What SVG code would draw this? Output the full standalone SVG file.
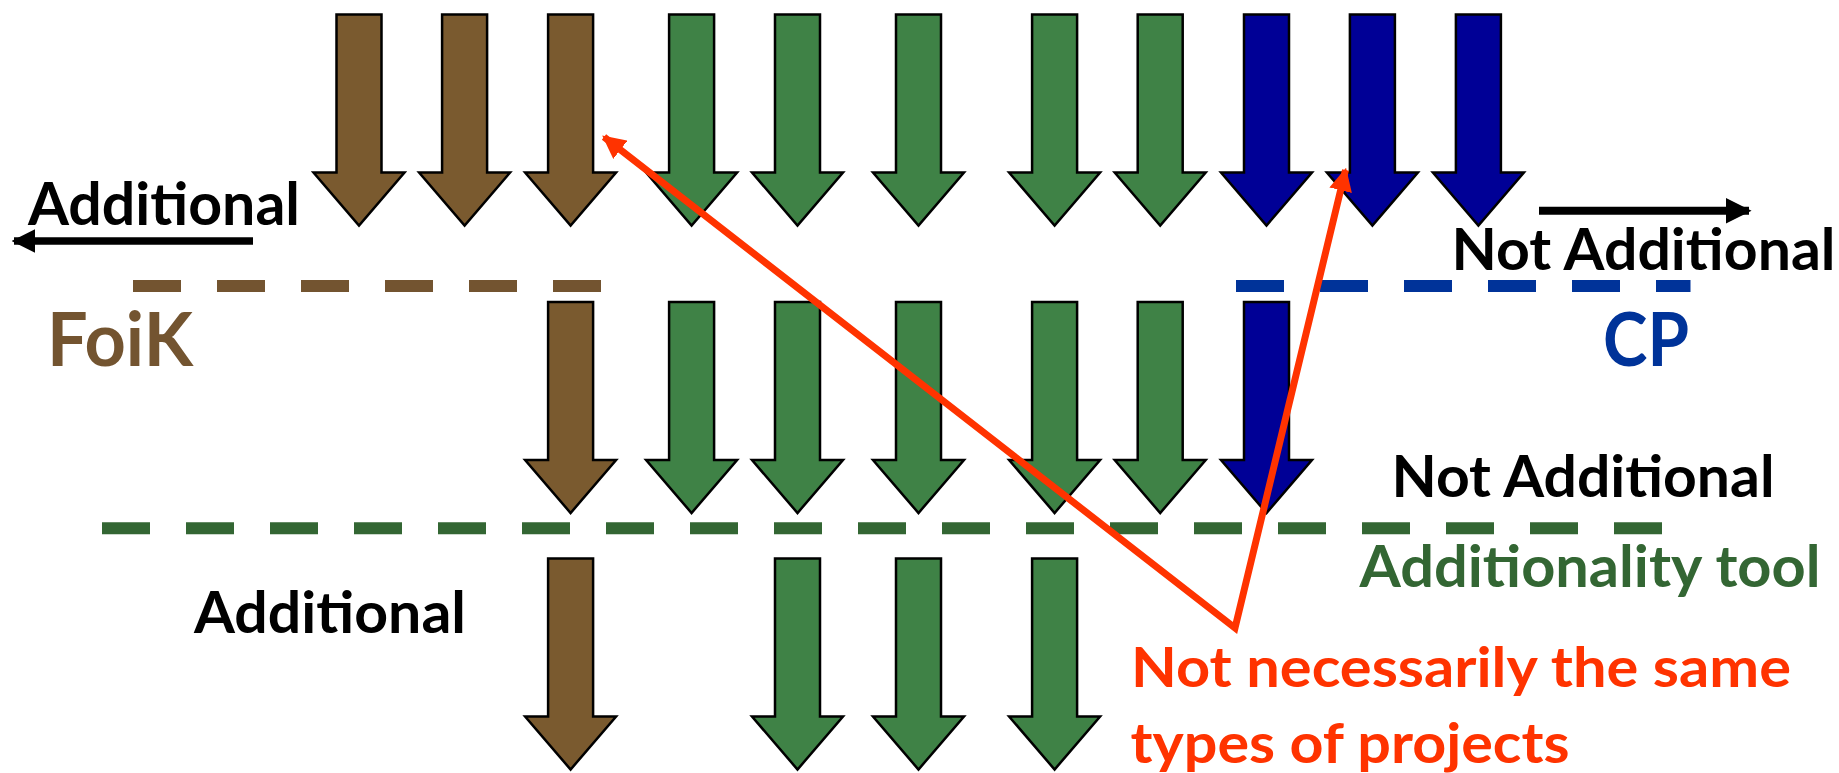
<svg xmlns="http://www.w3.org/2000/svg" width="1839" height="773" viewBox="0 0 1839 773">
<style>
.arr{stroke:#000;stroke-width:2.5;stroke-linejoin:miter}
.brown{fill:#7A5A2F}
.green{fill:#3F8246}
.blue{fill:#000096}
.t{font-family:Lato,"Open Sans","Liberation Sans",sans-serif;font-weight:700}
.blk{fill:#000}
.dash{fill:none;stroke-width:12;stroke-dasharray:48 36}
.red{fill:none;stroke:#FF3300;stroke-width:7;stroke-linejoin:miter}
</style>
<defs>
<path id="dn" d="M-22.5,0 H22.5 V158 H45.5 L0,211 L-45.5,158 H-22.5 Z"/>
<marker id="rh" viewBox="0 0 10 10" refX="9" refY="5" markerWidth="3.3" markerHeight="3.3" orient="auto-start-reverse" markerUnits="strokeWidth">
<path d="M0,0 L10,5 L0,10 Z" fill="#FF3300"/>
</marker>
<marker id="bh" viewBox="0 0 10 10" refX="9" refY="5" markerWidth="3.2" markerHeight="3.2" orient="auto" markerUnits="strokeWidth">
<path d="M0,0 L10,5 L0,10 Z" fill="#000"/>
</marker>
</defs>

<g id="row1">
<use id="b1" href="#dn" class="arr brown" transform="translate(359,14.5)"/>
<use id="b2" href="#dn" class="arr brown" transform="translate(464.6,14.5)"/>
<use id="b3" href="#dn" class="arr brown" transform="translate(570.6,14.5)"/>
<use id="g1" href="#dn" class="arr green" transform="translate(691.6,14.5)"/>
<use id="g2" href="#dn" class="arr green" transform="translate(797.5,14.5)"/>
<use id="g3" href="#dn" class="arr green" transform="translate(918.5,14.5)"/>
<use id="g4" href="#dn" class="arr green" transform="translate(1054.6,14.5)"/>
<use id="g5" href="#dn" class="arr green" transform="translate(1160.2,14.5)"/>
<use id="c1" href="#dn" class="arr blue" transform="translate(1266.5,14.5)"/>
<use id="c2" href="#dn" class="arr blue" transform="translate(1372.4,14.5)"/>
<use id="c3" href="#dn" class="arr blue" transform="translate(1478.4,14.5)"/>
</g>

<g id="row2">
<use id="b3r2" href="#dn" class="arr brown" transform="translate(570.6,302)"/>
<use id="g1r2" href="#dn" class="arr green" transform="translate(691.6,302)"/>
<use id="g2r2" href="#dn" class="arr green" transform="translate(797.5,302)"/>
<use id="g3r2" href="#dn" class="arr green" transform="translate(918.5,302)"/>
<use id="g4r2" href="#dn" class="arr green" transform="translate(1054.6,302)"/>
<use id="g5r2" href="#dn" class="arr green" transform="translate(1160.2,302)"/>
<use id="c1r2" href="#dn" class="arr blue" transform="translate(1266.5,302)"/>
</g>

<g id="row3">
<use id="b3r3" href="#dn" class="arr brown" transform="translate(570.6,558.5)"/>
<use id="g2r3" href="#dn" class="arr green" transform="translate(797.5,558.5)"/>
<use id="g3r3" href="#dn" class="arr green" transform="translate(918.5,558.5)"/>
<use id="g4r3" href="#dn" class="arr green" transform="translate(1054.6,558.5)"/>
</g>

<g id="thresholds">
<line id="foik-line" x1="133" y1="286" x2="601" y2="286" class="dash" stroke="#735430"/>
<line id="cp-line" x1="1236" y1="286" x2="1690.5" y2="286" class="dash" stroke="#003399"/>
<line id="tool-line" x1="102" y1="528.3" x2="1663" y2="528.3" class="dash" stroke="#336633"/>
</g>

<g id="labels">
<text class="t blk" x="28" y="225.3" font-size="59" textLength="272" lengthAdjust="spacingAndGlyphs">Additional</text>
<text class="t blk" x="1451.5" y="270" font-size="57" textLength="384" lengthAdjust="spacingAndGlyphs">Not Additional</text>
<text class="t" fill="#735430" x="47" y="365.7" font-size="75" textLength="146" lengthAdjust="spacingAndGlyphs">FoiK</text>
<text class="t" fill="#003399" x="1603" y="365.7" font-size="74" textLength="86" lengthAdjust="spacingAndGlyphs">CP</text>
<text class="t blk" x="1391.5" y="496.7" font-size="57" textLength="383" lengthAdjust="spacingAndGlyphs">Not Additional</text>
<text class="t" fill="#336633" x="1359.5" y="587.3" font-size="57" textLength="461" lengthAdjust="spacingAndGlyphs">Additionality tool</text>
<text class="t blk" x="194" y="633.3" font-size="58" textLength="272" lengthAdjust="spacingAndGlyphs">Additional</text>
<text class="t" fill="#FF3300" x="1131" y="686.7" font-size="56" textLength="660" lengthAdjust="spacingAndGlyphs">Not necessarily the same</text>
<text class="t" fill="#FF3300" x="1130.5" y="763" font-size="56" textLength="439" lengthAdjust="spacingAndGlyphs">types of projects</text>
</g>

<g id="connectors">
<line id="left-dir" x1="253" y1="241" x2="14" y2="241" stroke="#000" stroke-width="7.3" marker-end="url(#bh)"/>
<line id="right-dir" x1="1539" y1="210.8" x2="1749" y2="210.8" stroke="#000" stroke-width="8" marker-end="url(#bh)"/>
<path id="red-pointer" d="M604,137 L1235,628 L1345.5,170" class="red" marker-start="url(#rh)" marker-end="url(#rh)"/>
</g>
</svg>
